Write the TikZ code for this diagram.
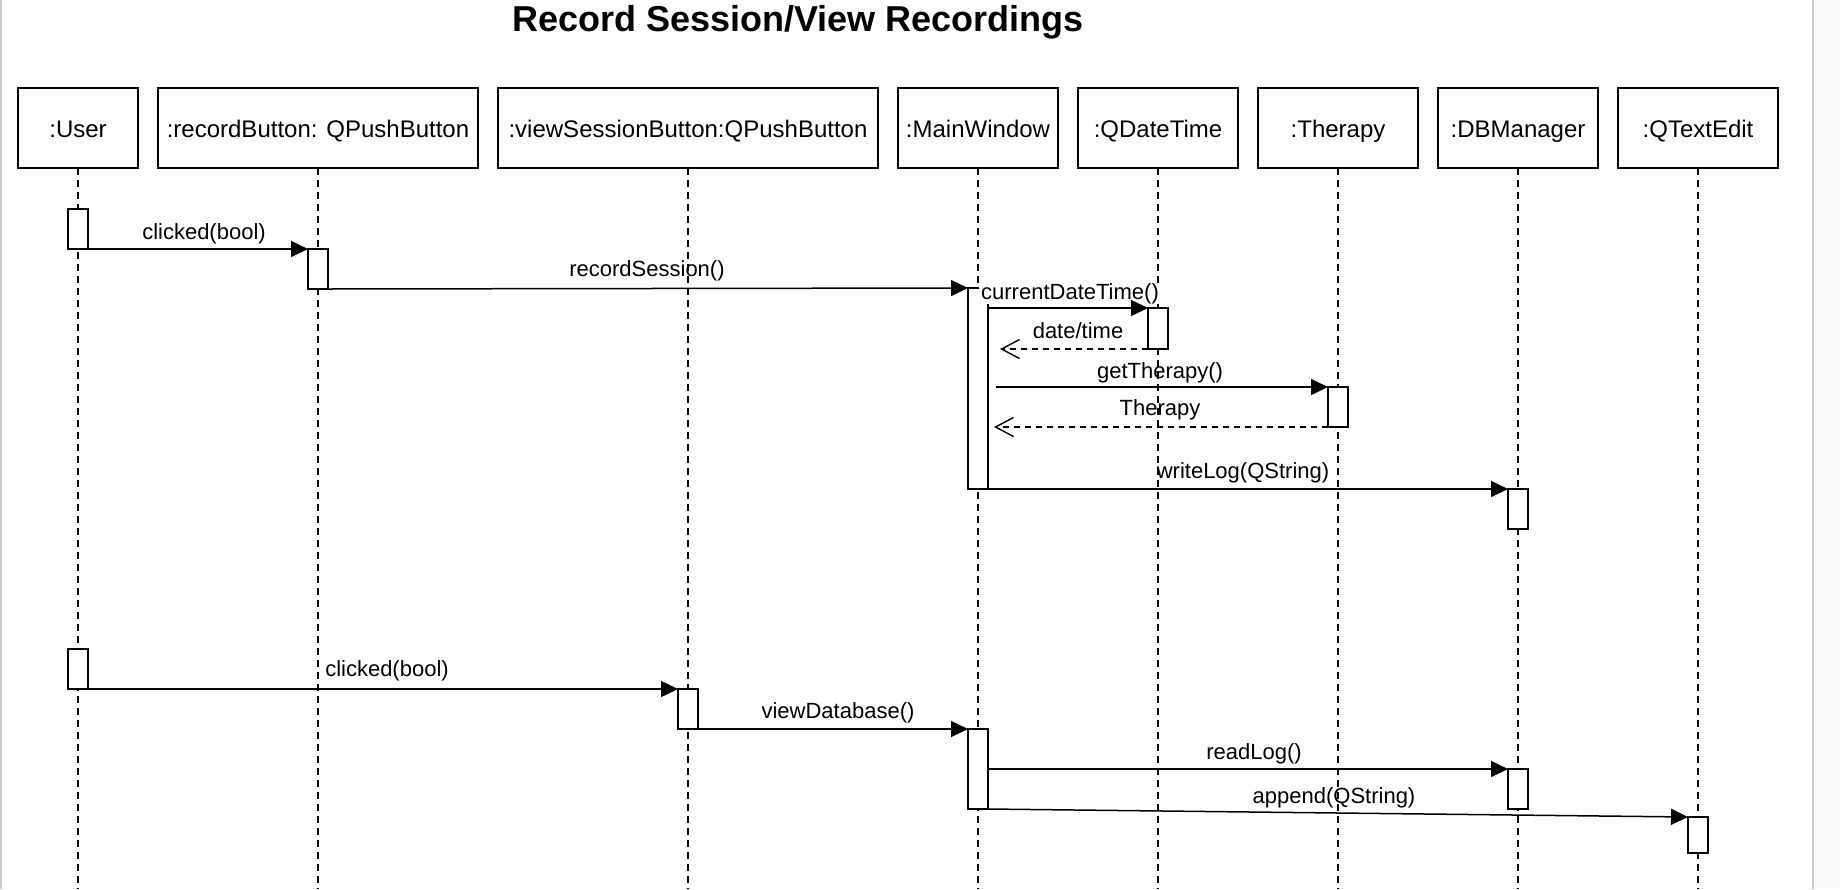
\documentclass[tikz,border=0pt]{standalone}
\usepackage{fontspec}
\setmainfont{Liberation Sans}
\usetikzlibrary{arrows.meta}
\begin{document}
\begin{tikzpicture}[x=0.5pt,y=-0.5pt,
  obj/.style={draw, line width=0.75pt, minimum height=40pt, inner sep=0pt, outer sep=0pt, text height=10pt, text depth=0.6pt, font=\fontsize{12}{14}\selectfont},
  act/.style={draw, fill=white, line width=0.75pt, minimum width=10pt, inner sep=0pt, outer sep=0pt},
  life/.style={line width=0.7pt, dash pattern=on 3.4pt off 2.6pt},
  msg/.style={line width=0.75pt, -{Triangle[length=8.5pt,width=8pt]}},
  ret/.style={line width=0.7pt, dash pattern=on 3pt off 2.5pt, -{Straight Barb[length=9pt,width=9.5pt,line width=0.7pt]}},
  lbl/.style={inner sep=0pt, font=\fontsize{11}{13}\selectfont}]
\useasboundingbox (0,0) rectangle (1840,889);
\fill[white] (0,0) rectangle (1840,889);
\fill[black!2] (1813,0) rectangle (1840,889);
\draw[black!20, line width=1pt] (1,0) -- (1,889);
\draw[black!20, line width=1pt] (1813,0) -- (1813,889);
\coordinate (bot) at (0,889);

\node[font=\bfseries\fontsize{18}{22}\selectfont, anchor=base] (title) at (798,31) {Record Session/View Recordings};

% objects
\node[obj, minimum width=60pt] (u) at (78,128) {:User};
\node[obj, minimum width=160pt] (rb) at (318,128) {:recordButton: QPushButton};
\node[obj, minimum width=190pt] (vs) at (688,128) {:viewSessionButton:QPushButton};
\node[obj, minimum width=80pt] (mw) at (978,128) {:MainWindow};
\node[obj, minimum width=80pt] (dt) at (1158,128) {:QDateTime};
\node[obj, minimum width=80pt] (th) at (1338,128) {:Therapy};
\node[obj, minimum width=80pt] (db) at (1518,128) {:DBManager};
\node[obj, minimum width=80pt] (te) at (1698,128) {:QTextEdit};

% lifelines
\foreach \n in {u,rb,vs,mw,dt,th,db,te}
  \draw[life] (\n.south) -- (\n.south |- bot);

% activations
\node[act, minimum height=20pt] (ua1) at (78,229) {};
\node[act, minimum height=20pt] (rb1) at (318,269) {};
\node[act, minimum height=100.5pt] (mw1) at (978,388.5) {};
\node[act, minimum height=20.5pt] (dt1) at (1158,328.5) {};
\node[act, minimum height=20pt] (th1) at (1338,407) {};
\node[act, minimum height=20pt] (db1) at (1518,509) {};
\node[act, minimum height=20pt] (ua2) at (78,669) {};
\node[act, minimum height=20pt] (vs1) at (688,709) {};
\node[act, minimum height=40pt] (mw2) at (978,769) {};
\node[act, minimum height=20pt] (db2) at (1518,789) {};
\node[act, minimum height=18pt] (te1) at (1698,835) {};

% messages
\draw[msg] (ua1.south east) -- (rb1.north west);
\draw[msg] (rb1.south east) -- (mw1.north west);
\node[lbl, fill=white, inner xsep=1pt] (l3) at (1070,294) {currentDateTime()};
\draw[msg] (mw1.east |- dt1.north west) -- (dt1.north west);
\draw[ret] (dt1.south west) -- ([xshift=6pt]mw1.east |- dt1.south west);
\draw[msg] ([xshift=4pt]mw1.east |- th1.north west) -- (th1.north west);
\draw[ret] (th1.south west) -- ([xshift=3pt]mw1.east |- th1.south west);
\draw[msg] (mw1.south west) -- (db1.north west);
\draw[msg] (ua2.south east) -- (vs1.north west);
\draw[msg] (vs1.south east) -- (mw2.north west);
\draw[msg] (mw2.east |- db2.north west) -- (db2.north west);
\draw[msg] (mw2.south east) -- (te1.north west);

% labels
\node[lbl] (l1) at (204,233.5) {clicked(bool)};
\node[lbl] (l2) at (647,271) {recordSession()};
\node[lbl] (l4) at (1078,331) {date/time};
\node[lbl] (l5) at (1160,373) {getTherapy()};
\node[lbl] (l6) at (1160,410) {Therapy};
\node[lbl] (l7) at (1243,472.5) {writeLog(QString)};
\node[lbl] (l8) at (387,670.5) {clicked(bool)};
\node[lbl] (l9) at (838,712.5) {viewDatabase()};
\node[lbl] (l10) at (1254,753.5) {readLog()};
\node[lbl] (l11) at (1334,797.5) {append(QString)};
\end{tikzpicture}
\end{document}
